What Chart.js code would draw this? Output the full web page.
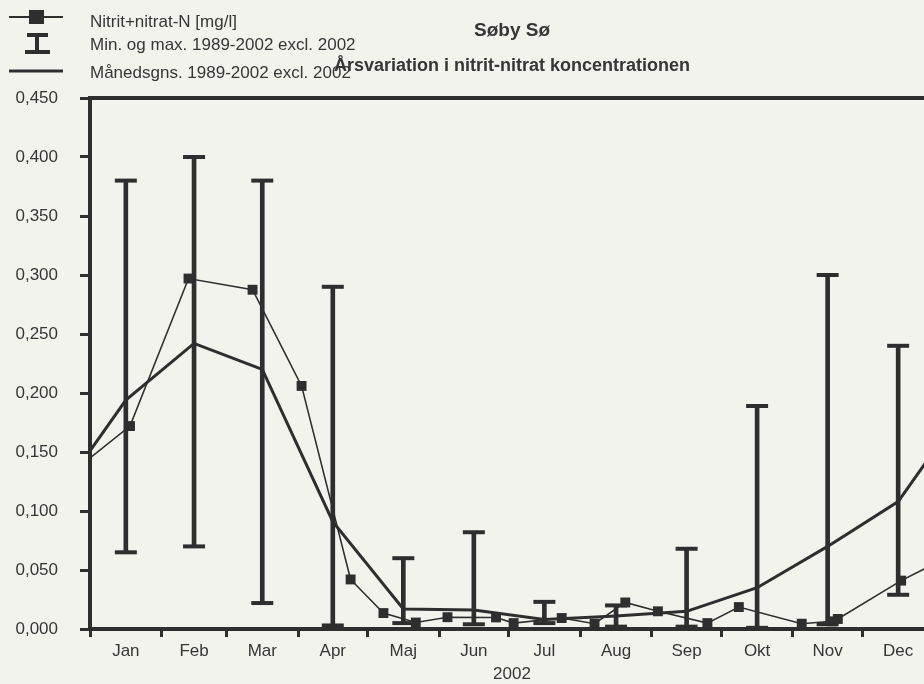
<!DOCTYPE html>
<html>
<head>
<meta charset="utf-8">
<script src="https://cdn.jsdelivr.net/npm/chart.js@4.4.1/dist/chart.umd.min.js"></script>
<style>
html,body{margin:0;padding:0;background:#f3f3ee;overflow:hidden;width:924px;height:684px}
#wrap{position:absolute;left:0;top:0;width:949px;height:684px}
</style>
</head>
<body>
<div id="wrap"><canvas id="c" width="949" height="684"></canvas></div>
<script>
// ---------- data ----------
const chartTitle = 'Søby Sø';
const chartSubtitle = 'Årsvariation i nitrit-nitrat koncentrationen';
const xAxisTitle = '2002';
const legendLabels = ['Nitrit+nitrat-N [mg/l]', 'Min. og max. 1989-2002 excl. 2002', 'Månedsgns. 1989-2002 excl. 2002'];

const monthLabels = ['Jan','Feb','Mar','Apr','Maj','Jun','Jul','Aug','Sep','Okt','Nov','Dec'];
const monthStartDays = [0,31,59,90,120,151,181,212,243,273,304,334,365];
const monthMidDays = [15.5,45,74.5,105,135.5,166,196.5,227.5,258,288.5,319,349.5];
const yTickValues = [0,0.05,0.10,0.15,0.20,0.25,0.30,0.35,0.40,0.45];
const yearDays = 365;

// measured 2002 samples (day of year, mg/l); first and last are neighbouring-year samples
const sampleDays   = [-14, 17.3, 42.6, 70.3, 91.5, 112.7, 126.9, 140.9, 154.6, 175.6, 183.2, 204.0, 218.2, 231.5, 245.6, 267.0, 280.6, 307.8, 320.8, 323.4, 350.8, 379];
const sampleValues = [0.123, 0.172, 0.297, 0.2875, 0.206, 0.042, 0.0135, 0.0055, 0.010, 0.0098, 0.005, 0.0093, 0.0045, 0.0225, 0.015, 0.005, 0.0186, 0.0045, 0.0065, 0.0085, 0.041, 0.069];

// monthly statistics 1989-2002 excl. 2002
const monthlyMean = [0.194, 0.242, 0.220, 0.091, 0.017, 0.016, 0.008, 0.011, 0.015, 0.035, 0.070, 0.108];
const monthlyMin  = [0.065, 0.070, 0.022, 0.003, 0.005, 0.004, 0.005, 0.002, 0.002, 0.001, 0.004, 0.029];
const monthlyMax  = [0.380, 0.400, 0.380, 0.290, 0.060, 0.082, 0.023, 0.020, 0.068, 0.189, 0.300, 0.240];

// ---------- build ----------
const FONT = '"Liberation Sans", Arial, Helvetica, sans-serif';
const INK = '#2e2e2e';
const TXT = '#363636';

const measuredPts = sampleDays.map((d, i) => ({x: d, y: sampleValues[i]}));
// annual cycle: wrap December before January and January after December
const meanPts = [{x: monthMidDays[11] - yearDays, y: monthlyMean[11]}]
  .concat(monthMidDays.map((d, i) => ({x: d, y: monthlyMean[i]})))
  .concat([{x: monthMidDays[0] + yearDays, y: monthlyMean[0]}]);
const rangeBars = monthMidDays.map((d, i) => ({x: d, y: [monthlyMin[i], monthlyMax[i]]}));
const minCaps = monthMidDays.map((d, i) => ({x: d, y: monthlyMin[i]}));
const maxCaps = monthMidDays.map((d, i) => ({x: d, y: monthlyMax[i]}));

const fmt = v => v.toFixed(3).replace('.', ',');

const framePlugin = {
  id: 'frame',
  afterDatasetsDraw(chart) {
    const {ctx, chartArea: a} = chart;
    ctx.save();
    ctx.strokeStyle = INK;
    ctx.lineWidth = 4;
    ctx.beginPath();
    ctx.moveTo(a.left - 2, a.top);
    ctx.lineTo(a.right, a.top);
    ctx.lineTo(a.right, a.bottom);
    ctx.stroke();
    ctx.restore();
  },
  afterDraw(chart) {
    const ctx = chart.ctx;
    const xs = chart.scales.x;
    ctx.save();
    // titles
    ctx.fillStyle = TXT;
    ctx.textAlign = 'center';
    ctx.textBaseline = 'alphabetic';
    ctx.font = 'bold 19px ' + FONT;
    ctx.fillText(chartTitle, 512, 36);
    ctx.font = 'bold 18px ' + FONT;
    ctx.fillText(chartSubtitle, 512, 71);
    // x axis title, centred on the full year
    ctx.font = '17px ' + FONT;
    ctx.fillText(xAxisTitle, xs.getPixelForValue(yearDays / 2), 679);
    // legend
    ctx.textAlign = 'left';
    ctx.fillText(legendLabels[0], 90, 26.5);
    ctx.fillText(legendLabels[1], 90, 50);
    ctx.fillText(legendLabels[2], 90, 78);
    ctx.strokeStyle = INK;
    ctx.fillStyle = INK;
    // row 1 symbol: thin line with square
    ctx.lineWidth = 2;
    ctx.beginPath(); ctx.moveTo(9, 17); ctx.lineTo(63, 17); ctx.stroke();
    ctx.fillRect(29, 10, 15, 14);
    // row 2 symbol: range bar
    ctx.fillRect(27, 33, 21, 4);
    ctx.fillRect(35, 33, 4, 19);
    ctx.fillRect(25, 50, 25, 4);
    // row 3 symbol: thick line
    ctx.lineWidth = 3;
    ctx.beginPath(); ctx.moveTo(9, 71); ctx.lineTo(63, 71); ctx.stroke();
    ctx.restore();
  }
};

new Chart(document.getElementById('c'), {
  type: 'line',
  data: {
    datasets: [
      {
        type: 'line', label: legendLabels[0], data: measuredPts,
        borderColor: INK, borderWidth: 1.6, backgroundColor: INK,
        pointStyle: 'rect', pointRadius: 7, pointBackgroundColor: INK, pointBorderWidth: 0,
        tension: 0, clip: {left: 0, top: 0, right: 0, bottom: 8}
      },
      {
        type: 'line', label: legendLabels[2], data: meanPts,
        borderColor: INK, borderWidth: 3, pointRadius: 0, tension: 0,
        clip: {left: 0, top: 0, right: 0, bottom: 2}
      },
      {
        type: 'bar', label: legendLabels[1], data: rangeBars,
        backgroundColor: INK, borderWidth: 0, barThickness: 4, grouped: false
      },
      {
        type: 'line', label: 'min', data: minCaps, showLine: false,
        pointStyle: 'line', pointRadius: 11, pointBorderWidth: 4, pointBorderColor: INK, borderColor: INK
      },
      {
        type: 'line', label: 'max', data: maxCaps, showLine: false,
        pointStyle: 'line', pointRadius: 11, pointBorderWidth: 4, pointBorderColor: INK, borderColor: INK
      }
    ]
  },
  options: {
    responsive: false,
    devicePixelRatio: 1,
    animation: false,
    events: [],
    layout: {padding: {left: 15, top: 98, right: 0, bottom: 0}},
    plugins: {
      legend: {display: false},
      title: {display: false},
      tooltip: {enabled: false}
    },
    scales: {
      x: {
        type: 'linear', min: 0, max: yearDays, offset: false,
        grid: {
          offset: false, drawOnChartArea: false, drawTicks: true, tickLength: 8, tickWidth: 3,
          tickColor: ctx => (ctx.tick && monthStartDays.includes(ctx.tick.value)) ? INK : 'rgba(0,0,0,0)'
        },
        border: {display: true, width: 4, color: INK},
        afterBuildTicks: scale => {
          scale.ticks = monthStartDays.concat(monthMidDays).sort((a, b) => a - b).map(v => ({value: v}));
        },
        afterFit: scale => { scale.height = 55; scale.paddingLeft = 0; scale.paddingRight = 0; },
        ticks: {
          autoSkip: false, maxRotation: 0, minRotation: 0, padding: 4,
          color: TXT, font: {family: FONT, size: 17},
          callback: v => { const i = monthMidDays.indexOf(v); return i >= 0 ? monthLabels[i] : ''; }
        },
        title: {display: false}
      },
      y: {
        type: 'linear', min: 0, max: 0.45,
        grid: {drawOnChartArea: false, drawTicks: true, tickLength: 10, tickWidth: 3, tickColor: INK},
        border: {display: true, width: 4, color: INK},
        afterBuildTicks: scale => { scale.ticks = yTickValues.map(v => ({value: v})); },
        afterFit: scale => { scale.width = 75; },
        ticks: {padding: 22, color: TXT, font: {family: FONT, size: 17}, callback: v => fmt(v)}
      }
    }
  },
  plugins: [framePlugin]
});
</script>
</body>
</html>
